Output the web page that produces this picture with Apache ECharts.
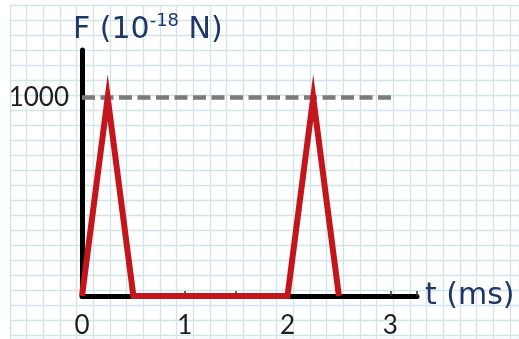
<!DOCTYPE html>
<html>
<head>
<meta charset="utf-8">
<script src="https://cdn.jsdelivr.net/npm/echarts@6/dist/echarts.min.js"></script>
<style>
html,body{margin:0;padding:0;background:#fff;}
#c{width:519px;height:339px;}
</style>
</head>
<body>
<div id="c"></div>
<script>
// Data
var tValues = [0, 0.25, 0.5, 2.0, 2.25, 2.5];          // t (ms)
var fValues = [0, 1000, 0, 0, 1000, 0];                 // F (10^-18 N)
var refT = [0, 3.05];                                   // dashed reference line extent
var refF = [1000, 1000];
var xTickLabels = [0, 1, 2, 3];
var yTickLabels = [1000];

var forceData = tValues.map(function (t, i) { return [t, fValues[i]]; });
var refData = refT.map(function (t, i) { return [t, refF[i]]; });

var FONT = 'Lato';
var NAME_FONT = 'DejaVu Sans';
var NAVY = '#1f3668';

var chart = echarts.init(document.getElementById('c'), null, {renderer: 'canvas'});
chart.setOption({
  animation: false,
  backgroundColor: '#ffffff',
  title: {
    left: 68,
    top: 7,
    text: '{a|F (10}{s|-18}{a| N)}',
    textStyle: {
      fontWeight: 'normal',
      rich: {
        a: {fontFamily: NAME_FONT, fontSize: 30, fontWeight: 'normal', color: NAVY, lineHeight: 36},
        s: {fontFamily: NAME_FONT, fontSize: 18, fontWeight: 'normal', color: NAVY, lineHeight: 24, verticalAlign: 'top'}
      }
    }
  },
  grid: [
    {left: 10, top: 5, width: 509, height: 334, containLabel: false},
    {left: 82, right: 102, top: 50, bottom: 39, containLabel: false}
  ],
  xAxis: [
    {
      gridIndex: 0, type: 'value', min: 0, max: 30.54, interval: 1,
      axisLine: {show: false}, axisTick: {show: false}, axisLabel: {show: false},
      splitLine: {show: true, lineStyle: {color: '#d0e4e9', width: 1.3}}
    },
    {
      gridIndex: 1, type: 'value', min: 0, max: 3.26, interval: 0.5,
      name: 't (ms)', nameLocation: 'end', nameGap: 8,
      nameTextStyle: {fontFamily: NAME_FONT, fontSize: 30, color: NAVY, verticalAlign: 'middle', padding: [0, 0, 6, 0]},
      axisLine: {show: true, onZero: false, lineStyle: {color: '#000', width: 5}},
      axisTick: {show: true, inside: true, length: 5, lineStyle: {color: '#333', width: 1.5}},
      axisLabel: {
        show: true, margin: 17, fontFamily: FONT, fontSize: 26, color: '#1e1e1e',
        formatter: function (v) { return xTickLabels.indexOf(v) >= 0 ? String(v) : ''; }
      },
      splitLine: {show: false}
    }
  ],
  yAxis: [
    {
      gridIndex: 0, type: 'value', min: 0, max: 22.27, interval: 1, inverse: true,
      axisLine: {show: false}, axisTick: {show: false}, axisLabel: {show: false},
      splitLine: {show: true, lineStyle: {color: '#d0e4e9', width: 1.3}}
    },
    {
      gridIndex: 1, type: 'value', min: 0, max: 1240, interval: 1000,
      axisLine: {show: true, onZero: false, lineStyle: {color: '#000', width: 5}},
      axisTick: {show: false},
      axisLabel: {
        show: true, margin: 13, fontFamily: FONT, fontSize: 26, color: '#1e1e1e',
        formatter: function (v) { return yTickLabels.indexOf(v) >= 0 ? String(v) : ''; }
      },
      splitLine: {show: false}
    }
  ],
  series: [
    {
      type: 'line', xAxisIndex: 1, yAxisIndex: 1, data: refData,
      symbol: 'none', silent: true,
      lineStyle: {color: '#7b7b7b', width: 4.5, type: [13, 5.5], cap: 'butt'}
    },
    {
      type: 'line', xAxisIndex: 1, yAxisIndex: 1, data: forceData,
      symbol: 'none', silent: true, z: 5,
      lineStyle: {color: '#c3161c', width: 6, join: 'miter', cap: 'butt', miterLimit: 20}
    }
  ]
});
</script>
</body>
</html>
